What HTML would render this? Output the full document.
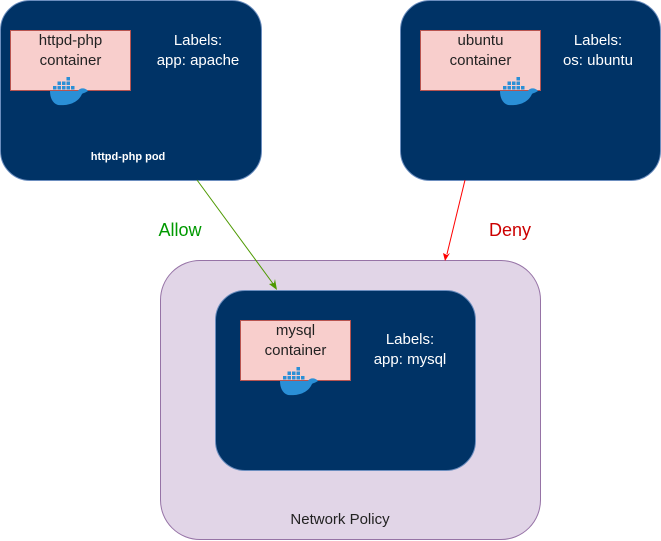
<!DOCTYPE html>
<html><head><style>
body{margin:0;width:661px;height:541px;background:#fff;position:relative;overflow:hidden;font-family:"Liberation Sans",Arial,sans-serif}
.a{position:absolute;box-sizing:border-box}
.pod{background:#003366;border:1px solid #6c8ebf;border-radius:30px}
.c{background:#f8cecc;border:1px solid #b85450;color:#222;font-size:15px;text-align:center;line-height:20px;padding-top:0}
.lab{color:#fff;font-size:15px;text-align:center;line-height:20px}
</style></head><body>
<div class="a" style="left:160px;top:260px;width:381px;height:280px;background:#e1d5e7;border:1px solid #9673a6;border-radius:40px"></div>
<div class="a pod" style="left:0;top:0;width:262px;height:181px"></div>
<div class="a pod" style="left:400px;top:0;width:261px;height:181px"></div>
<div class="a pod" style="left:215px;top:290px;width:261px;height:181px"></div>

<div class="a c" style="left:10px;top:30px;width:121px;height:61px">httpd-php<br>container</div>
<div class="a c" style="left:420px;top:30px;width:121px;height:61px">ubuntu<br>container</div>
<div class="a c" style="left:240px;top:320px;width:111px;height:61px">mysql<br>container</div>

<div class="a lab" style="left:138px;top:31px;width:120px">Labels:<br>app: apache</div>
<div class="a lab" style="left:538px;top:31px;width:120px">Labels:<br>os: ubuntu</div>
<div class="a lab" style="left:350px;top:330px;width:120px">Labels:<br>app: mysql</div>
<div class="a" style="left:58px;top:151px;width:140px;text-align:center;color:#fff;font-size:11px;font-weight:bold">httpd-php pod</div>
<div class="a" style="left:240px;top:511px;width:200px;text-align:center;color:#222;font-size:15px">Network Policy</div>
<div class="a" style="left:130px;top:220px;width:100px;text-align:center;color:#009900;font-size:18px">Allow</div>
<div class="a" style="left:460px;top:220px;width:100px;text-align:center;color:#cc0000;font-size:18px">Deny</div>

<svg class="a" style="left:0;top:0" width="661" height="541">
<defs>
<g id="w">
<path d="M0 10 H28 C30 6 36 7 38 10 C35 12 33 12 32 13 C28 22 18 25 8 24 C2 22 0 16 0 10Z" fill="#2a8fd6"/>
<g fill="#2a8fd6"><rect x="3" y="5" width="3.5" height="3.5"/><rect x="7.5" y="5" width="3.5" height="3.5"/><rect x="12" y="5" width="3.5" height="3.5"/><rect x="16.5" y="5" width="3.5" height="3.5"/><rect x="21" y="5" width="3.5" height="3.5"/>
<rect x="7.5" y="0.5" width="3.5" height="3.5"/><rect x="12" y="0.5" width="3.5" height="3.5"/><rect x="16.5" y="0.5" width="3.5" height="3.5"/><rect x="16.5" y="-4" width="3.5" height="3.5"/></g>
</g>
</defs>
<use href="#w" x="50" y="81"/>
<use href="#w" x="500" y="81"/>
<use href="#w" x="280" y="371"/>
<line x1="197" y1="180" x2="274" y2="285" stroke="#4d9900" stroke-width="1"/>
<path d="M277 290 L269 284 L274 283 L275 279Z" fill="#4d9900"/>
<line x1="465" y1="180" x2="447" y2="254" stroke="#ff0000" stroke-width="1"/>
<path d="M445 261 L443 253 L447 255 L450 253Z" fill="#ff0000"/>
</svg>
</body></html>
